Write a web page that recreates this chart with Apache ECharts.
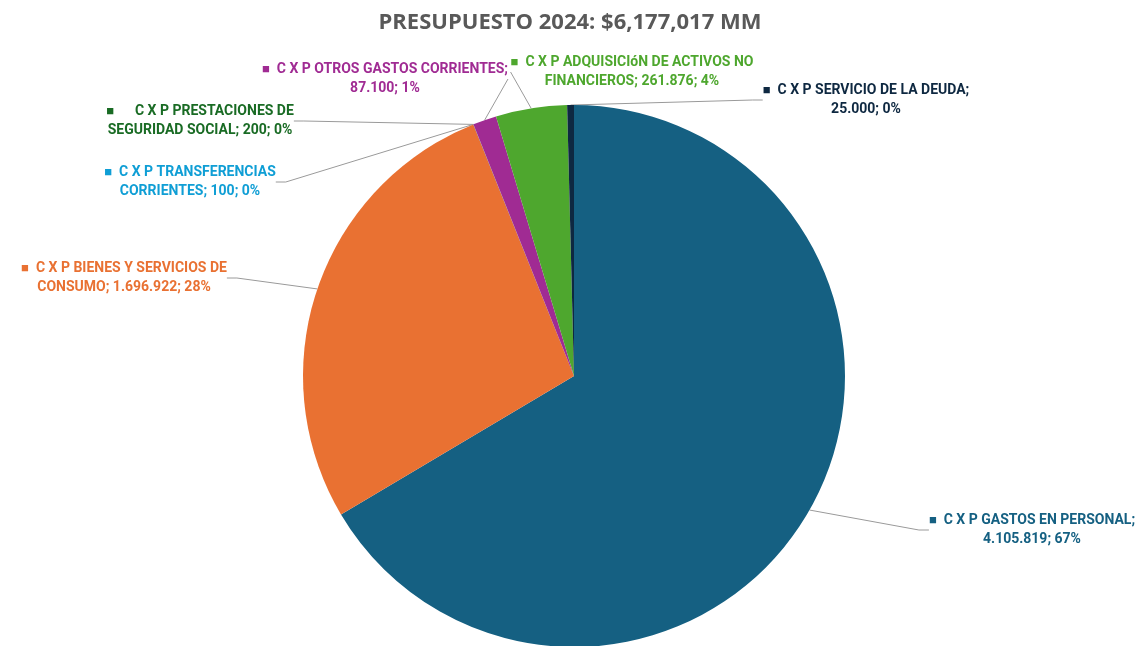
<!DOCTYPE html>
<html><head><meta charset="utf-8">
<script src="https://cdn.jsdelivr.net/npm/echarts@6/dist/echarts.min.js"></script>
<style>html,body{margin:0;padding:0;background:#fff}#c{width:1140px;height:646px}</style>
</head><body><div id="c"></div>
<script>
const titleText = 'PRESUPUESTO 2024: $6,177,017 MM';
const categories = [
  'C X P GASTOS EN PERSONAL',
  'C X P BIENES Y SERVICIOS DE CONSUMO',
  'C X P PRESTACIONES DE SEGURIDAD SOCIAL',
  'C X P TRANSFERENCIAS CORRIENTES',
  'C X P OTROS GASTOS CORRIENTES',
  'C X P ADQUISICIóN DE ACTIVOS NO FINANCIEROS',
  'C X P SERVICIO DE LA DEUDA'
];
const values = [4105819, 1696922, 200, 100, 87100, 261876, 25000];
const colors = ['#156082', '#E97132', '#196B24', '#0F9ED5', '#A02B93', '#4EA72E', '#0E2841'];
const breakAfter = ['PERSONAL;', 'SERVICIOS DE', 'PRESTACIONES DE', 'TRANSFERENCIAS', 'CORRIENTES;', 'ACTIVOS NO', 'DEUDA;'];
// label anchor positions (layout only)
const labelPos = [[1032, 530], [124, 278], [200, 121], [190, 182], [385, 79], [632, 72], [866, 100]];

const fmt = v => v.toString().replace(/\B(?=(\d{3})+(?!\d))/g, '.');

const chart = echarts.init(document.getElementById('c'));
chart.setOption({
  animation: false,
  title: {
    text: titleText, left: 'center', top: 7,
    textStyle: { fontFamily: 'Open Sans, sans-serif', fontSize: 22, fontWeight: 'bold', color: '#595959' }
  },
  series: [{
    type: 'pie',
    center: [574, 376],
    radius: 271,
    startAngle: 90,
    clockwise: true,
    percentPrecision: 0,
    avoidLabelOverlap: false,
    data: categories.map((n, i) => ({
      name: n, value: values[i],
      itemStyle: { color: colors[i] },
      label: { color: colors[i] }
    })),
    label: {
      show: true,
      fontFamily: 'Roboto, sans-serif',
      fontWeight: 'bold',
      fontSize: 14,
      lineHeight: 19,
      align: 'center',
      formatter: p => {
        let s = p.name + '; ' + fmt(p.value) + '; ' + Math.round(p.percent) + '%';
        const b = breakAfter[p.dataIndex];
        const k = s.indexOf(b) + b.length;
        const l1 = s.slice(0, k).trim(), l2 = s.slice(k).trim();
        const gap = p.dataIndex === 2 ? '      ' : '  ';
        return '{m|■}' + gap + '{t|' + l1 + '}\n{t|' + l2 + '}';
      },
      rich: {
        m: { fontSize: 13, lineHeight: 19 },
        t: { fontFamily: 'Roboto, sans-serif', fontWeight: 'bold', fontSize: 14, lineHeight: 19 }
      }
    },
    labelLine: { show: true, length: 10, length2: 10, smooth: false, lineStyle: { color: '#9a9a9a', width: 1 } },
    labelLayout: p => ({
      x: labelPos[p.dataIndex][0], y: labelPos[p.dataIndex][1],
      align: 'center', verticalAlign: 'middle', hideOverlap: false
    })
  }]
});
</script></body></html>
